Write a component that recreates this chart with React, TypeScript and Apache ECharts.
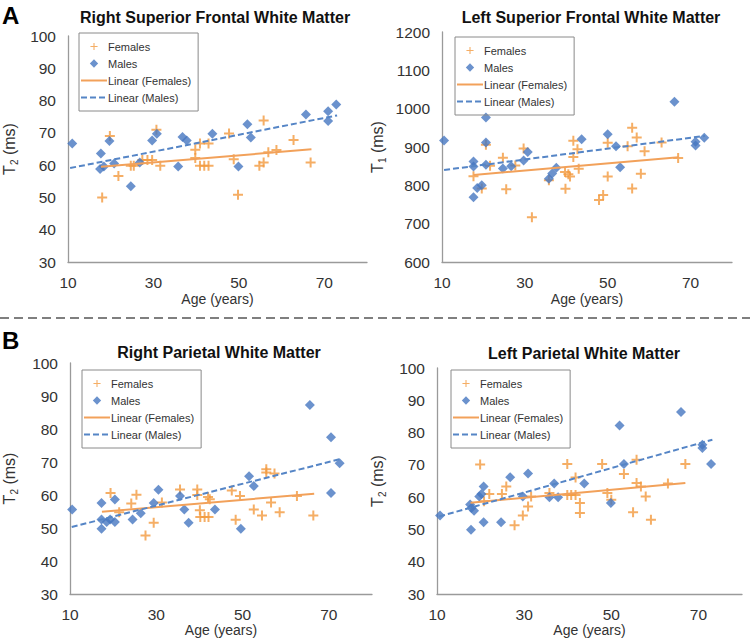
import React, { useEffect, useRef } from "react";
import * as echarts from "echarts";

// ---------- data ----------
const panelTitles = [
  "Right Superior Frontal White Matter",
  "Left Superior Frontal White Matter",
  "Right Parietal White Matter",
  "Left Parietal White Matter",
];
const yNames = ["2", "1", "2", "2"]; // subscript of T
const xTickLabels = [10, 30, 50, 70];
const xRange = [10, 80];
const yRanges = [
  [30, 100, 10],
  [600, 1200, 100],
  [30, 100, 10],
  [30, 100, 10],
];
const seriesNames = ["Females", "Males", "Linear (Females)", "Linear (Males)"];

const aLeftMales = [
  [11, 66.7], [17.7, 63.6], [17.5, 58.8], [18.4, 59.6], [19.7, 67.5], [20.8, 60.5],
  [24.7, 53.5], [26.8, 60.8], [29.7, 67.6], [30.8, 69.7], [35.8, 59.6], [36.8, 68.7],
  [37.8, 67.6], [43.8, 69.7], [49.9, 59.6], [52, 72.7], [52.8, 68.6], [65.7, 75.7],
  [70.9, 76.7], [70.9, 73.7], [72.8, 78.8],
];
const aLeftFemales = [
  [18, 50], [19.8, 69], [21.8, 56.6], [24.7, 59.8], [25.4, 59.8], [27.4, 61.6],
  [28.6, 61.6], [29.7, 61.6], [30.7, 71], [31.6, 59.8], [39.8, 64.8], [39.8, 62.2],
  [40.9, 66.7], [42.9, 66.7], [40.9, 59.8], [41.9, 59.8], [42.9, 59.8], [47.7, 69.8],
  [48.8, 61.8], [49.8, 50.8], [54.8, 59.8], [55.8, 60.8], [55.8, 73.8], [56.9, 64],
  [58.8, 64.7], [62.8, 67.8], [66.8, 60.8],
];
const aLeftMaleTrend = [[10.5, 59.1], [73, 75.4]];
const aLeftFemaleTrend = [[17.7, 59.5], [67, 64.9]];

const aRightMales = [
  [10.5, 917], [17.6, 862], [17.6, 849], [17.6, 769], [18.5, 793], [19.6, 800],
  [20.6, 977], [20.6, 912], [20.6, 854], [24.7, 844], [26.7, 850], [29.7, 865],
  [30.7, 887], [35.8, 817], [36.6, 831], [37.6, 846], [43.7, 920], [50, 933],
  [52, 902], [53, 847], [66.1, 1018], [71.2, 914], [71.2, 904], [73.3, 924],
];
const aRightFemales = [
  [17.6, 824], [19.6, 792], [20.6, 906], [21.6, 851], [24.7, 872], [25.5, 790],
  [27.7, 852], [29.7, 896], [31.7, 717], [35.8, 813], [39.7, 835], [40.5, 829],
  [40.9, 823], [39.8, 791], [41.7, 916], [41.7, 874], [42.7, 894], [43, 843],
  [47.9, 762], [48.9, 775], [50, 911], [50, 823], [54.8, 902], [55.9, 950],
  [55.9, 792], [57, 925], [58, 830], [58.9, 889], [63, 912], [67, 871],
];
const aRightMaleTrend = [[10.5, 840], [73.5, 929]];
const aRightFemaleTrend = [[17.6, 827], [67.1, 873]];

const bLeftMales = [
  [10.5, 55.6], [17.3, 57.6], [17.3, 52.6], [18.5, 51.8], [19.3, 52.6], [20.4, 51.8],
  [17.3, 49.8], [20.4, 58.6], [24.5, 52.6], [26.4, 54.5], [29.4, 57.6], [30.5, 61.6],
  [35.5, 59.7], [36.5, 55.6], [37.5, 51.6], [43.6, 55.6], [49.6, 49.8], [51.5, 65.7],
  [52.6, 62.7], [65.6, 87.3], [70.5, 77.5], [72.5, 69.6], [70.5, 60.6],
];
const bLeftFemales = [
  [19.4, 60.6], [21.4, 54.8], [24.2, 57.4], [25.4, 60.1], [27.5, 47.7], [29.4, 51.6],
  [31.3, 57.7], [35.5, 61.7], [39.5, 61.7], [39.5, 60], [40.1, 55.4], [40.2, 53.3],
  [41.2, 53.3], [42.1, 53.3], [42, 59.4], [42.4, 58.7], [47.5, 61.4], [48.4, 52.5],
  [49.4, 59.7], [52.6, 55.6], [54.5, 53.8], [55.5, 67.8], [55.5, 66.8], [57.4, 66.5],
  [56.6, 57.7], [58.6, 54.8], [62.6, 59.7], [66.4, 53.8],
];
const bLeftMaleTrend = [[10.4, 50.3], [72.7, 70.9]];
const bLeftFemaleTrend = [[17.4, 54.9], [66.6, 60.4]];

const bRightMales = [
  [10.7, 54.3], [17.6, 57.7], [17.9, 56.6], [18.5, 55.8], [17.8, 49.9], [19.7, 60.2],
  [20.2, 61], [20.7, 63.3], [20.7, 52.2], [24.7, 52.2], [26.8, 66.2], [30.9, 67.3],
  [29.7, 60.2], [35.8, 60], [36.9, 64.2], [37.8, 60], [43.8, 64.2], [51.9, 82.2],
  [66, 86.4], [52.9, 70.3], [49.9, 58.2], [70.9, 76.2], [70.9, 75.2], [72.9, 70.3],
];
const bRightFemales = [
  [19.9, 70.1], [22, 61], [24.9, 61], [25.9, 63.3], [20.8, 58.7], [27.8, 51.3],
  [29.7, 54.3], [30.9, 57.1], [31.6, 60.2], [35.8, 61.3], [39.9, 70.3], [41.8, 66.1],
  [39.9, 60.7], [40.8, 60.7], [41.8, 60.7], [42.8, 58.2], [42.8, 55.1], [47.9, 70.3],
  [55.8, 71.6], [52.9, 67.2], [67, 70.3], [55.8, 64.4], [56.8, 63.3], [63, 64.2],
  [49.1, 61.3], [50, 59.2], [57.9, 60.2], [55, 55.3], [59.1, 53],
];
const bRightMaleTrend = [[10.5, 54], [73.2, 77.8]];
const bRightFemaleTrend = [[17.7, 58.3], [67, 64.4]];

const femalesData = [aLeftFemales, aRightFemales, bLeftFemales, bRightFemales];
const malesData = [aLeftMales, aRightMales, bLeftMales, bRightMales];
const femaleTrends = [aLeftFemaleTrend, aRightFemaleTrend, bLeftFemaleTrend, bRightFemaleTrend];
const maleTrends = [aLeftMaleTrend, aRightMaleTrend, bLeftMaleTrend, bRightMaleTrend];

// ---------- layout / style ----------
const grids = [
  { left: 64, top: 36, width: 303, height: 226 },
  { left: 442, top: 32, width: 290, height: 230 },
  { left: 66, top: 363, width: 306, height: 231 },
  { left: 437, top: 368, width: 305, height: 226 },
];
const legendPos = [
  { left: 79, top: 33 },
  { left: 455, top: 37 },
  { left: 82, top: 370 },
  { left: 451, top: 370 },
];
const yNameGaps = [49, 55, 51, 50];
const xNameGaps = [30, 30, 26, 26];
const titlePos = [
  { x: 215, y: 17 },
  { x: 591, y: 17 },
  { x: 219, y: 352 },
  { x: 584, y: 353 },
];

const ORANGE = "#F29A3E";
const BLUE = "#4677C0";
const ORANGE_LINE = "#F2A15A";
const BLUE_LINE = "#5585C6";
const FONT = "'Liberation Sans', Arial, sans-serif";
const PLUS = "path://M4,0h2v4h4v2h-4v4h-2v-4h-4v-2h4z";
const PLUS_SMALL =
  "path://M-1,-1h0.01v0.01h-0.01z M5.25,1h1.5v4.25h4.25v1.5h-4.25v4.25h-1.5v-4.25h-4.25v-1.5h4.25z M13,13h0.01v0.01h-0.01z";
const DIAMOND_SMALL = "path://M-1,-1h0.01v0.01h-0.01z M5,0L10,5L5,10L0,5Z M11,11h0.01v0.01h-0.01z";

export default function App() {
  const ref = useRef<HTMLDivElement>(null);

  useEffect(() => {
    if (!ref.current) return;
    const chart = echarts.init(ref.current, undefined, { renderer: "svg" });

    const xAxis = grids.map((_, i) => ({
      type: "value",
      gridIndex: i,
      min: xRange[0],
      max: xRange[1],
      interval: 10,
      name: "Age (years)",
      nameLocation: "middle",
      nameGap: xNameGaps[i],
      nameTextStyle: { fontFamily: FONT, fontSize: 14, color: "#333" },
      axisLine: { show: true, lineStyle: { color: "#9a9a9a", width: 1.3 } },
      axisTick: { show: false },
      splitLine: { show: false },
      axisLabel: {
        margin: 12,
        fontFamily: FONT,
        fontSize: 15.5,
        color: "#333",
        formatter: (v: number) => (xTickLabels.includes(v) ? String(v) : ""),
      },
    }));

    const yAxis = grids.map((_, i) => ({
      type: "value",
      gridIndex: i,
      min: yRanges[i][0],
      max: yRanges[i][1],
      interval: yRanges[i][2],
      name: `{t|T}{s|${yNames[i]}}{t| (ms)}`,
      nameLocation: "middle",
      nameRotate: 90,
      nameGap: yNameGaps[i],
      nameTextStyle: {
        fontFamily: FONT,
        color: "#333",
        rich: {
          t: { fontFamily: FONT, fontSize: 16, color: "#333", lineHeight: 20 },
          s: { fontFamily: FONT, fontSize: 10, color: "#333", verticalAlign: "bottom", lineHeight: 20 },
        },
      },
      axisLine: { show: true, lineStyle: { color: "#9a9a9a", width: 1.3 } },
      axisTick: { show: false },
      splitLine: { show: false },
      axisLabel: {
        margin: 12,
        fontFamily: FONT,
        fontSize: 15.5,
        color: "#333",
        formatter: (v: number) => String(v),
      },
    }));

    const series: any[] = [];
    grids.forEach((_, i) => {
      series.push({
        type: "scatter",
        name: seriesNames[0],
        xAxisIndex: i,
        yAxisIndex: i,
        symbol: PLUS,
        symbolSize: 10,
        itemStyle: { color: ORANGE },
        data: femalesData[i],
      });
      series.push({
        type: "scatter",
        name: seriesNames[1],
        xAxisIndex: i,
        yAxisIndex: i,
        symbol: "diamond",
        symbolSize: 10,
        itemStyle: { color: BLUE },
        data: malesData[i],
      });
      series.push({
        type: "line",
        name: seriesNames[2],
        xAxisIndex: i,
        yAxisIndex: i,
        symbol: "none",
        itemStyle: { color: ORANGE_LINE },
        lineStyle: { color: ORANGE_LINE, width: 2 },
        data: femaleTrends[i],
      });
      series.push({
        type: "line",
        name: seriesNames[3],
        xAxisIndex: i,
        yAxisIndex: i,
        symbol: "none",
        itemStyle: { color: BLUE_LINE },
        lineStyle: { color: BLUE_LINE, width: 2, type: [6, 3] },
        data: maleTrends[i],
      });
    });

    const legend = legendPos.map((p) => ({
      left: p.left,
      top: p.top,
      orient: "vertical",
      itemWidth: 26,
      itemHeight: 10,
      itemGap: 6,
      padding: [8, 7, 8, 1],
      borderColor: "#8a8a8a",
      borderWidth: 1,
      selectedMode: false,
      symbolKeepAspect: true,
      textStyle: { fontFamily: FONT, fontSize: 11, color: "#333", padding: [0, 0, 0, -4] },
      data: [
        { name: seriesNames[0], icon: PLUS_SMALL, itemStyle: { color: ORANGE } },
        { name: seriesNames[1], icon: DIAMOND_SMALL, itemStyle: { color: BLUE } },
        { name: seriesNames[2], itemStyle: { opacity: 0 } },
        { name: seriesNames[3], itemStyle: { opacity: 0 } },
      ],
    }));

    const graphic: any[] = [
      {
        type: "line",
        shape: { x1: 0, y1: 318, x2: 750, y2: 318 },
        style: { stroke: "#555", lineWidth: 1.3, lineDash: [9, 5] },
      },
      {
        type: "text",
        left: 2,
        top: 3,
        style: { text: "A", font: `bold 24px ${FONT}`, fill: "#000" },
      },
      {
        type: "text",
        left: 2,
        top: 328,
        style: { text: "B", font: `bold 24px ${FONT}`, fill: "#000" },
      },
      ...titlePos.map((p, i) => ({
        type: "text",
        x: p.x,
        y: p.y,
        style: {
          text: panelTitles[i],
          font: `bold 16px ${FONT}`,
          fill: "#111",
          align: "center",
          verticalAlign: "middle",
        },
      })),
    ];

    chart.setOption({
      animation: false,
      backgroundColor: "#fff",
      grid: grids.map((g) => ({ ...g, containLabel: false })),
      xAxis,
      yAxis,
      legend,
      series,
      graphic,
    });

    return () => chart.dispose();
  }, []);

  return (
    <div
      ref={ref}
      style={{ position: "fixed", left: 0, top: 0, width: 750, height: 644, background: "#fff" }}
    />
  );
}
